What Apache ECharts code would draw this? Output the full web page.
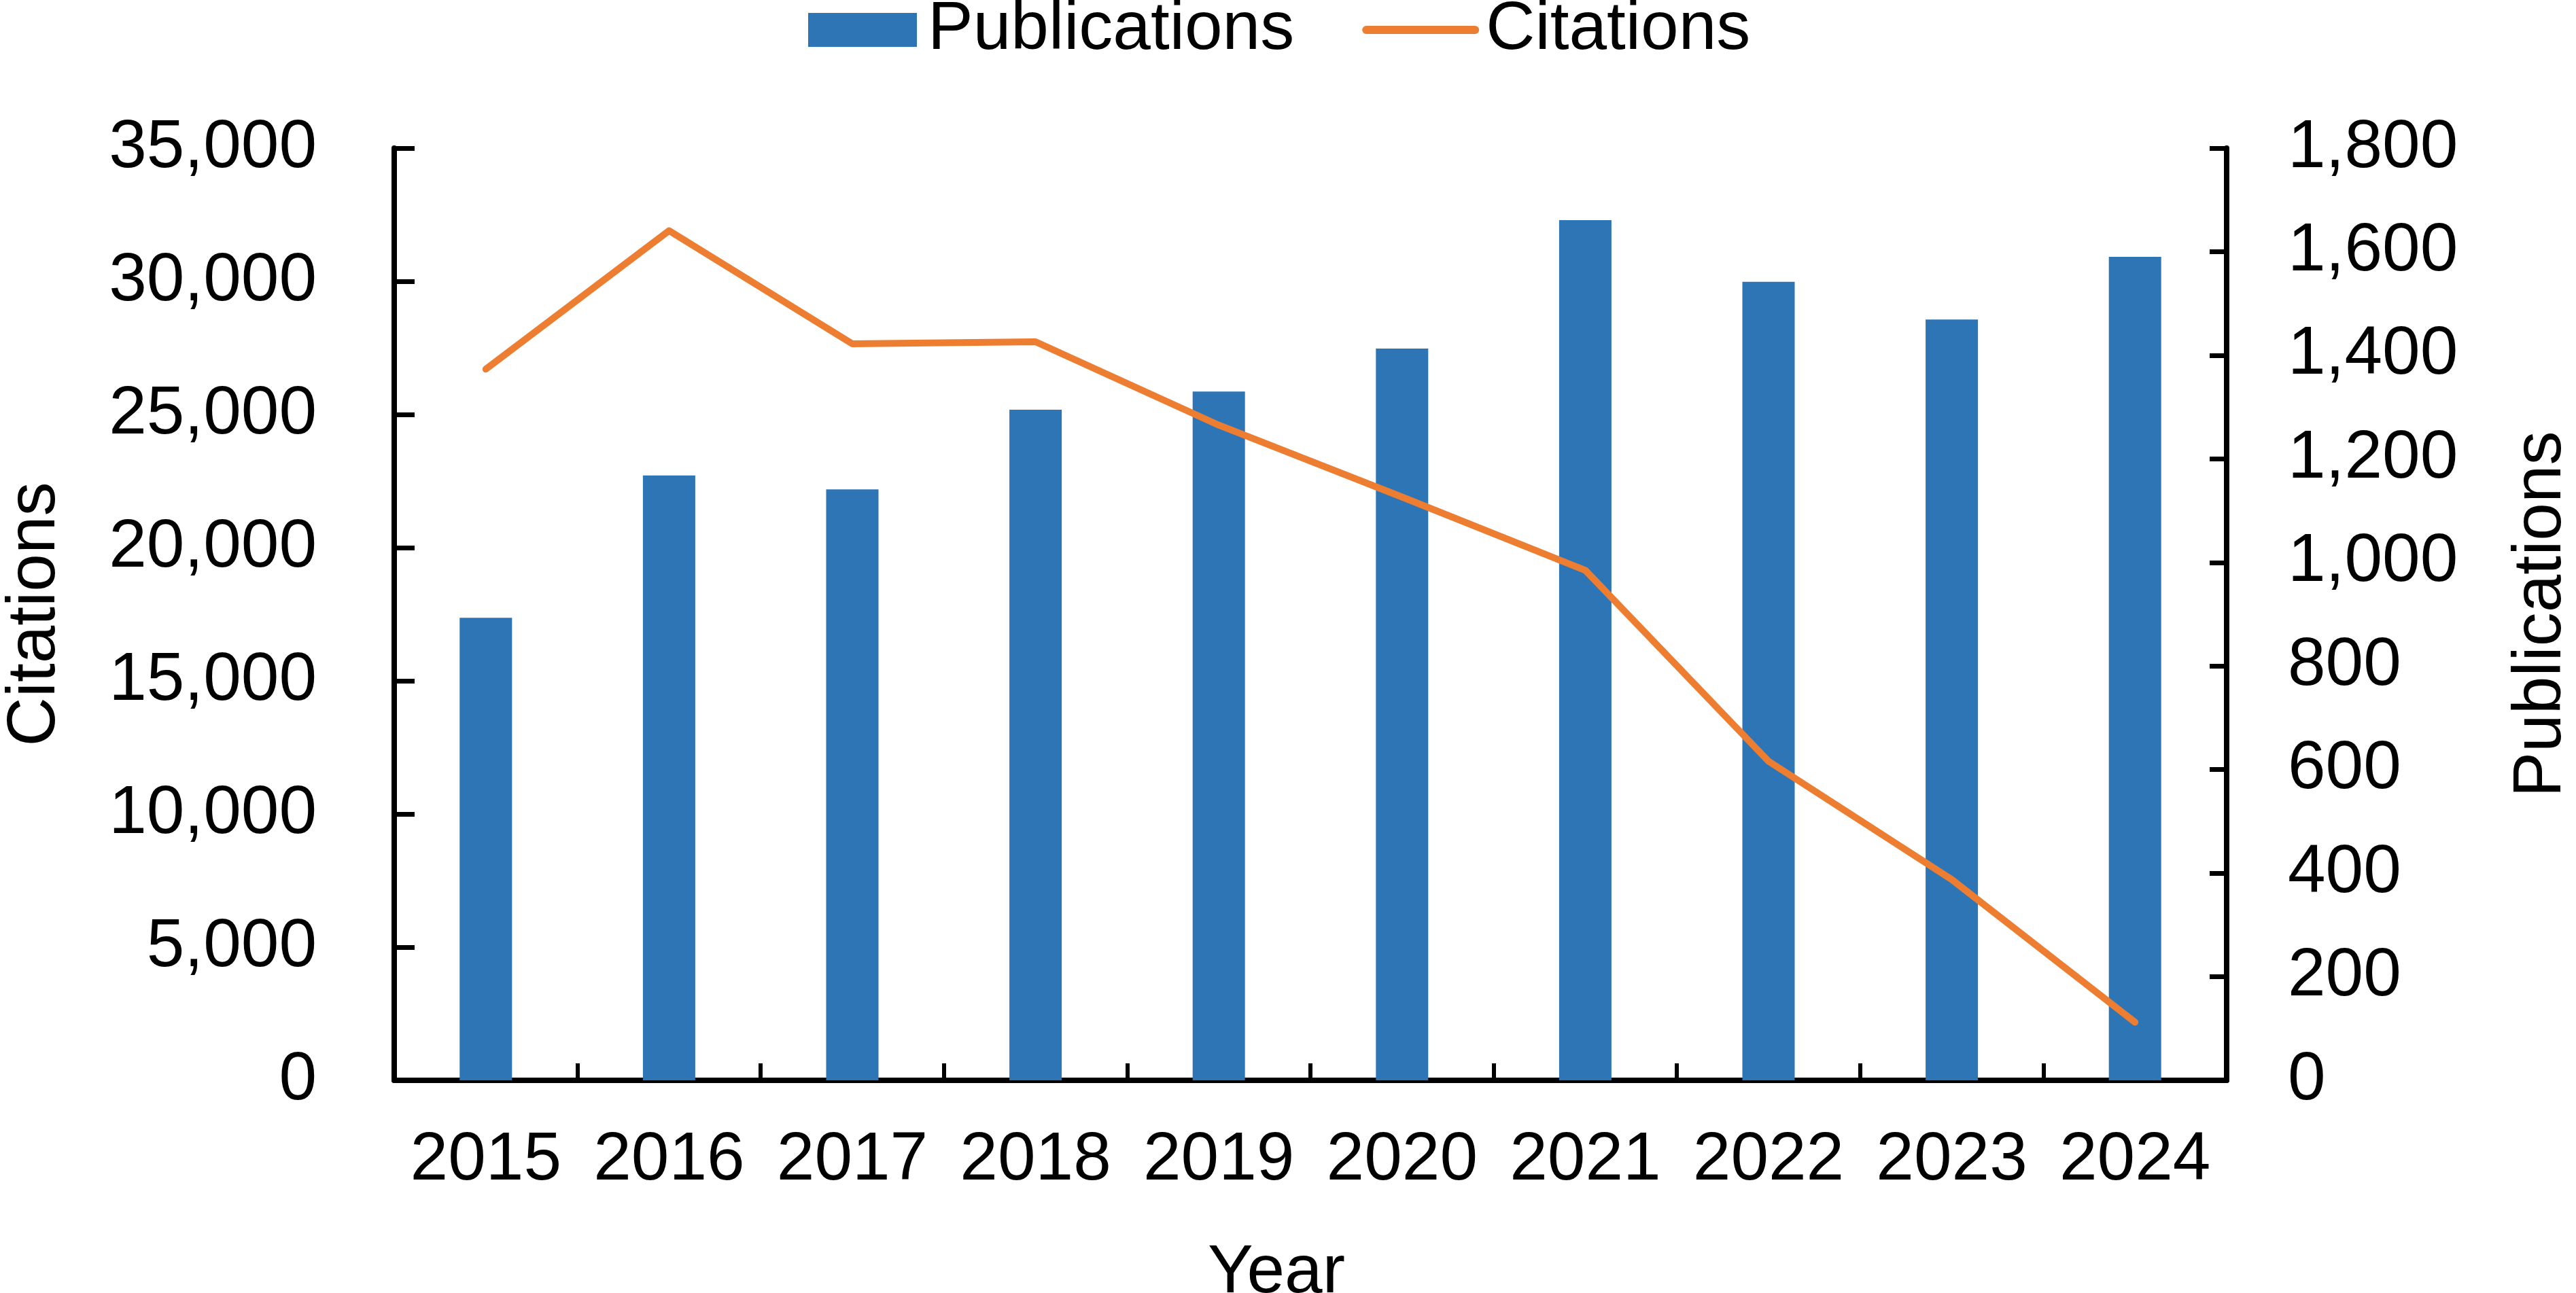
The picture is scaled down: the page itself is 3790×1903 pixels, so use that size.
<!DOCTYPE html>
<html>
<head>
<meta charset="utf-8">
<script src="https://cdn.jsdelivr.net/npm/echarts@6/dist/echarts.min.js"></script>
<style>
html,body{margin:0;padding:0;background:#fff;overflow:hidden;}
#c{width:3790px;height:1903px;}
</style>
</head>
<body>
<div id="c"></div>
<script>
const years = ['2015','2016','2017','2018','2019','2020','2021','2022','2023','2024'];
const publications = [893, 1168, 1141, 1295, 1330, 1413, 1661, 1542, 1469, 1590];
const citations = [26700, 31900, 27650, 27730, 24600, 21900, 19150, 11980, 7540, 2180];
const citationTicks = {min: 0, max: 35000, interval: 5000};
const publicationTicks = {min: 0, max: 1800, interval: 200};

const FONT = "'Liberation Sans', Arial, sans-serif";
const chart = echarts.init(document.getElementById('c'));
const fmt = v => v.toLocaleString('en-US');
const axisLine = {show: true, lineStyle: {color: '#000', width: 8}};

chart.setOption({
  backgroundColor: '#fff',
  animation: false,
  textStyle: {fontFamily: FONT, color: '#000'},
  legend: {
    top: -6,
    left: 1189,
    padding: 0,
    itemWidth: 160,
    itemHeight: 50,
    itemGap: 100,
    textStyle: {fontSize: 100, color: '#000', fontFamily: FONT, padding: [0, 0, 0, 11]},
    data: [
      {name: 'Publications', icon: 'rect'},
      {name: 'Citations', itemStyle: {opacity: 0, borderWidth: 0}}
    ],
    lineStyle: {width: 12, cap: 'round'}
  },
  grid: {left: 580, right: 514, top: 218, bottom: 313, containLabel: false, outerBoundsMode: 'none'},
  xAxis: {
    type: 'category',
    data: years,
    boundaryGap: true,
    name: 'Year',
    nameLocation: 'middle',
    nameGap: 234,
    nameTextStyle: {fontSize: 100, color: '#000', fontFamily: FONT, padding: [0, 100, 0, 0]},
    axisLine: axisLine,
    axisTick: {show: true, inside: true, length: 25, lineStyle: {color: '#000', width: 6}},
    axisLabel: {fontSize: 100, color: '#000', margin: 68, interval: 0, fontFamily: FONT}
  },
  yAxis: [
    {
      type: 'value',
      position: 'left',
      min: citationTicks.min, max: citationTicks.max, interval: citationTicks.interval,
      name: 'Citations',
      nameLocation: 'middle',
      nameGap: 478,
      nameTextStyle: {fontSize: 100, color: '#000', fontFamily: FONT},
      axisLine: axisLine,
      axisTick: {show: true, inside: true, length: 30, lineStyle: {color: '#000', width: 7}},
      axisLabel: {fontSize: 100, color: '#000', margin: 114, formatter: fmt, fontFamily: FONT},
      splitLine: {show: false}
    },
    {
      type: 'value',
      position: 'right',
      min: publicationTicks.min, max: publicationTicks.max, interval: publicationTicks.interval,
      name: 'Publications',
      nameLocation: 'middle',
      nameGap: 413,
      nameTextStyle: {fontSize: 100, color: '#000', fontFamily: FONT},
      axisLine: axisLine,
      axisTick: {show: true, inside: true, length: 25, lineStyle: {color: '#000', width: 7}},
      axisLabel: {fontSize: 100, color: '#000', margin: 90, formatter: fmt, fontFamily: FONT},
      splitLine: {show: false}
    }
  ],
  series: [
    {
      name: 'Publications',
      type: 'bar',
      yAxisIndex: 1,
      data: publications,
      barWidth: 77,
      itemStyle: {color: '#2E75B6'}
    },
    {
      name: 'Citations',
      type: 'line',
      yAxisIndex: 0,
      data: citations,
      symbol: 'none',
      lineStyle: {color: '#ED7D31', width: 10, cap: 'round', join: 'round'},
      itemStyle: {color: '#ED7D31'},
      z: 5
    }
  ]
});
</script>
</body>
</html>
